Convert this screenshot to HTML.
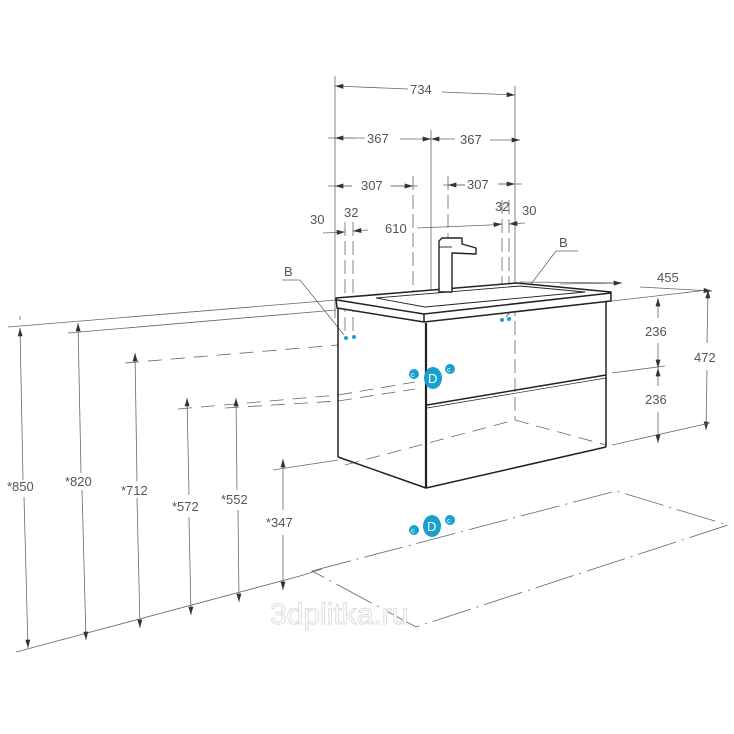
<!DOCTYPE html>
<html><head><meta charset="utf-8"><style>
html,body{margin:0;padding:0;background:#fff}
svg{display:block}
text{font-family:"Liberation Sans",sans-serif;font-size:13px;fill:#555}
</style></head><body>
<svg width="734" height="734" viewBox="0 0 734 734" xmlns="http://www.w3.org/2000/svg">
<defs>
<marker id="a" viewBox="0 0 10 6" refX="10" refY="3" markerWidth="10" markerHeight="5" orient="auto-start-reverse" markerUnits="userSpaceOnUse"><path d="M0,0L10,3L0,6z" fill="#333"/></marker>
</defs>
<g stroke="#666" stroke-width="0.8" fill="none">
<line x1="335" y1="76" x2="335" y2="318"/>
<line x1="515" y1="86" x2="515" y2="283"/>
<line x1="431" y1="130" x2="431" y2="300"/>
<line x1="413" y1="176" x2="413" y2="300" stroke-dasharray="14,5"/>
<line x1="448" y1="176" x2="448" y2="300" stroke-dasharray="14,5"/>
<line x1="345" y1="222" x2="345" y2="335" stroke-dasharray="14,5"/>
<line x1="353" y1="222" x2="353" y2="335" stroke-dasharray="14,5"/>
<line x1="502" y1="200" x2="502" y2="315" stroke-dasharray="14,5"/>
<line x1="509" y1="200" x2="509" y2="315" stroke-dasharray="14,5"/>
<line x1="335" y1="86" x2="408" y2="89" marker-start="url(#a)"/>
<line x1="442" y1="92" x2="515" y2="95" marker-end="url(#a)"/>
<line x1="328" y1="138" x2="365" y2="138"/><line x1="335" y1="138" x2="355" y2="138" marker-start="url(#a)"/>
<line x1="400" y1="139" x2="431" y2="139" marker-end="url(#a)"/>
<line x1="431" y1="139" x2="455" y2="139" marker-start="url(#a)"/>
<line x1="490" y1="140" x2="520" y2="140" marker-end="url(#a)"/>
<line x1="328" y1="186" x2="352" y2="186"/><line x1="335" y1="186" x2="352" y2="186" marker-start="url(#a)"/>
<line x1="390" y1="186" x2="418" y2="186"/><line x1="392" y1="186" x2="413" y2="186" marker-end="url(#a)"/>
<line x1="443" y1="185" x2="465" y2="185"/><line x1="448" y1="185" x2="465" y2="185" marker-start="url(#a)"/>
<line x1="498" y1="184" x2="522" y2="184"/><line x1="498" y1="184" x2="515" y2="184" marker-end="url(#a)"/>
<line x1="323" y1="233" x2="345" y2="232" marker-end="url(#a)"/>
<line x1="353" y1="231" x2="368" y2="230" marker-start="url(#a)"/>
<line x1="417" y1="228" x2="490" y2="225"/>
<line x1="490" y1="225" x2="502" y2="224" marker-end="url(#a)"/>
<line x1="509" y1="224" x2="525" y2="223" marker-start="url(#a)"/>
<polyline points="282,280 300,280 344,335"/>
<polyline points="578,251 556,251 506,317"/>
<line x1="8" y1="327" x2="336" y2="300"/>
<line x1="68" y1="333" x2="336" y2="310"/>
<line x1="125" y1="363" x2="338" y2="345" stroke-dasharray="14,9"/>
<line x1="178" y1="409" x2="338" y2="395" stroke-dasharray="14,9"/>
<line x1="225" y1="408" x2="338" y2="401" stroke-dasharray="14,9"/>
<line x1="273" y1="470" x2="338" y2="460"/>
<line x1="16" y1="652" x2="300" y2="576"/>
<line x1="300" y1="576" x2="322" y2="569"/>
<line x1="20" y1="316" x2="20" y2="320"/>
<line x1="20" y1="328" x2="23" y2="480" marker-start="url(#a)"/>
<line x1="24" y1="497" x2="28" y2="648" marker-end="url(#a)"/>
<line x1="78" y1="323" x2="81" y2="473" marker-start="url(#a)"/>
<line x1="82" y1="490" x2="86" y2="640" marker-end="url(#a)"/>
<line x1="135" y1="353" x2="137" y2="481" marker-start="url(#a)"/>
<line x1="137" y1="498" x2="140" y2="628" marker-end="url(#a)"/>
<line x1="187" y1="398" x2="189" y2="495" marker-start="url(#a)"/>
<line x1="189" y1="517" x2="191" y2="615" marker-end="url(#a)"/>
<line x1="236" y1="398" x2="237" y2="490" marker-start="url(#a)"/>
<line x1="238" y1="510" x2="239" y2="602" marker-end="url(#a)"/>
<line x1="283" y1="459" x2="283" y2="510" marker-start="url(#a)"/>
<line x1="283" y1="535" x2="283" y2="590" marker-end="url(#a)"/>
<line x1="520" y1="282" x2="622" y2="283"/>
<line x1="612" y1="301" x2="708" y2="290"/>
<line x1="560" y1="284" x2="622" y2="283" marker-end="url(#a)"/>
<line x1="640" y1="287" x2="712" y2="291" marker-end="url(#a)"/>
<line x1="708" y1="290" x2="707" y2="343" marker-start="url(#a)"/>
<line x1="707" y1="370" x2="706" y2="430" marker-end="url(#a)"/>
<line x1="612" y1="445" x2="710" y2="423"/>
<line x1="612" y1="373" x2="665" y2="366"/>
<line x1="658" y1="298" x2="658" y2="318" marker-start="url(#a)"/>
<line x1="658" y1="343" x2="658" y2="368" marker-end="url(#a)"/>
<line x1="658" y1="368" x2="658" y2="386" marker-start="url(#a)"/>
<line x1="658" y1="412" x2="658" y2="443" marker-end="url(#a)"/>
<line x1="515" y1="283" x2="515" y2="420" stroke-dasharray="14,5"/>
<line x1="345" y1="465" x2="515" y2="420" stroke-dasharray="14,8"/>
<line x1="515" y1="420" x2="606" y2="445" stroke-dasharray="14,8"/>
<line x1="338" y1="395" x2="415" y2="382" stroke-dasharray="14,8"/>
<line x1="338" y1="401" x2="415" y2="389" stroke-dasharray="14,8"/>
<polygon points="312,571 616,491 728,525 416,627" stroke-dasharray="40,6,2,6"/>
</g>
<g stroke="#222" stroke-width="1.5" fill="none" stroke-linejoin="round">
<polygon points="336,298 517,283 611,292 611,301 424,322 337,308" fill="#fff"/>
<polyline points="337,300 424,314 611,293"/>
<polyline points="376,298 520,286 585,292 425,307 376,298" stroke-width="0.9"/>
<line x1="424" y1="314" x2="424" y2="322"/>
<line x1="338" y1="308" x2="338" y2="457"/>
<line x1="606" y1="302" x2="606" y2="447"/>
<line x1="426" y1="323" x2="426" y2="488" stroke-width="2.2"/>
<polyline points="338,457 426,488 606,447"/>
<line x1="427" y1="405" x2="606" y2="375"/>
<line x1="427" y1="408" x2="606" y2="378" stroke-width="0.7"/>
<path d="M439,292 L439,241 L442,238 L462,238 L462,244 L476,248 L476,254 L452,253 L452,292 Z" fill="#fff" stroke-width="1.4"/>
<line x1="439" y1="247" x2="452" y2="247" stroke-width="0.9"/>
</g>
<g fill="#1aa0cf">
<circle cx="346" cy="338" r="2"/><circle cx="354" cy="337" r="2"/>
<circle cx="502" cy="320" r="2"/><circle cx="509" cy="319" r="2"/>
<circle cx="414" cy="374" r="5"/><ellipse cx="433" cy="378" rx="9" ry="11"/><circle cx="450" cy="369" r="5"/>
<circle cx="414" cy="530" r="5"/><ellipse cx="432" cy="526" rx="9" ry="11"/><circle cx="450" cy="520" r="5"/>
</g>
<g>
<text x="411" y="377" style="font-size:7px;fill:#fff">c</text><text x="428" y="383" style="font-size:13px;fill:#fff">D</text><text x="447" y="372" style="font-size:7px;fill:#fff">c</text>
<text x="411" y="533" style="font-size:7px;fill:#fff">c</text><text x="427" y="531" style="font-size:13px;fill:#fff">D</text><text x="447" y="523" style="font-size:7px;fill:#fff">c</text>
</g>
<text x="410" y="94">734</text>
<text x="367" y="143">367</text><text x="460" y="144">367</text>
<text x="361" y="190">307</text><text x="467" y="189">307</text>
<text x="310" y="224">30</text><text x="344" y="217">32</text>
<text x="385" y="233">610</text>
<text x="495" y="211">32</text><text x="522" y="215">30</text>
<text x="284" y="276">B</text><text x="559" y="247">B</text>
<text x="657" y="282">455</text>
<text x="694" y="362">472</text>
<text x="645" y="336">236</text><text x="645" y="404">236</text>
<text x="7" y="491">*850</text>
<text x="65" y="486">*820</text>
<text x="121" y="495">*712</text>
<text x="172" y="511">*572</text>
<text x="221" y="504">*552</text>
<text x="266" y="527">*347</text>
<text x="270" y="624" style="font-size:30px;fill:#fff;stroke:#ddd;stroke-width:1">3dplitka.ru</text>
</svg>
</body></html>
